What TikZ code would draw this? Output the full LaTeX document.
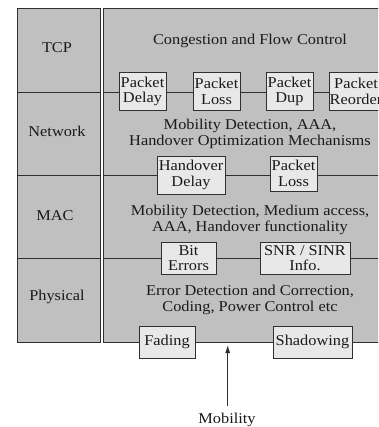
\documentclass[tikz,border=0pt]{standalone}
\usepackage{fontspec}
\setmainfont{Liberation Serif}[FakeStretch=1.09]
\usetikzlibrary{arrows.meta}
\definecolor{layerfill}{HTML}{C0C0C0}
\definecolor{boxfill}{HTML}{E8E8E8}
\definecolor{linec}{HTML}{303030}
\definecolor{textc}{HTML}{1A1A1A}
\begin{document}
\begin{tikzpicture}[x=1pt,y=-1pt,
  every node/.style={font=\fontsize{15}{15.7}\selectfont, text=textc},
  frame/.style={draw=linec, line width=0.9pt},
  lbl/.style={anchor=base, inner sep=0pt},
  desc/.style={align=center, inner sep=0pt},
  ibox/.style={draw=linec, line width=0.9pt, fill=boxfill, align=center, inner sep=0pt, minimum height=#1},
  ibox/.default=38pt
]
\clip (0,0) rectangle (378,427);
\fill[white] (0,0) rectangle (378,427);
% left column
\draw[frame, fill=layerfill] (17,8) rectangle (100,342);
\draw[frame] (17,92) -- (100,92);
\draw[frame] (17,175) -- (100,175);
\draw[frame] (17,258) -- (100,258);
\node[lbl] (tcp) at (57,52.5) {TCP};
\node[lbl] (net) at (57,136.5) {Network};
\node[lbl] (mac) at (55,220) {MAC};
\node[lbl] (phy) at (57,300.5) {Physical};
% right panel
\draw[frame, fill=layerfill] (103,8) rectangle (405,342);
\coordinate (l1a) at (103,92);  \coordinate (l1b) at (405,92);
\coordinate (l2a) at (103,175); \coordinate (l2b) at (405,175);
\coordinate (l3a) at (103,258); \coordinate (l3b) at (405,258);
\draw[frame] (l1a) -- (l1b);
\draw[frame] (l2a) -- (l2b);
\draw[frame] (l3a) -- (l3b);
\node[desc] (cfc) at (250,40.5) {Congestion and Flow Control};
\node[desc] (netd) at (250,133.7) {Mobility Detection, AAA,\\Handover Optimization Mechanisms};
\node[desc] (macd) at (250,219.8) {Mobility Detection, Medium access,\\AAA, Handover functionality};
\node[desc] (phyd) at (250,300) {Error Detection and Correction,\\Coding, Power Control etc};
% boxes row 1
\node[ibox, minimum width=47pt] (pd) at (142.5,91.5) {Packet\\Delay};
\node[ibox, minimum width=47pt] (pl) at (216.5,91.5) {Packet\\Loss};
\node[ibox, minimum width=47pt] (pdup) at (289.5,91.5) {Packet\\Dup};
\node[ibox, minimum width=54pt] (pr) at (356,91.5) {Packet\\Reorder};
% row 2
\node[ibox, minimum width=68pt] (hd) at (191,175) {Handover\\Delay};
\node[ibox=35pt, minimum width=47pt] (pl2) at (293.5,173.5) {Packet\\Loss};
% row 3
\node[ibox=32pt, minimum width=55pt] (be) at (188.5,258) {Bit\\Errors};
\node[ibox=32pt, minimum width=90pt] (snr) at (305,258) {SNR / SINR\\Info.};
% row 4
\node[ibox=32pt, minimum width=56pt] (fad) at (167,342) {Fading};
\node[ibox=32pt, minimum width=79pt] (sha) at (312.5,342) {Shadowing};
% mobility
\node[lbl] (mob) at (227,423) {Mobility};
\coordinate (mtop) at (227.7,345);
\coordinate (mbot) at (227.7,406);
\draw[linec, line width=0.9pt, -{Latex[length=8pt,width=5pt]}] (mbot) -- (mtop);
\end{tikzpicture}
\end{document}
